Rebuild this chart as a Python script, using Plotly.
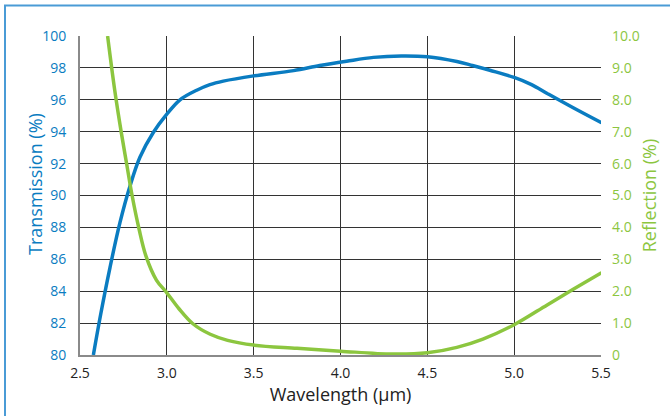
import plotly.graph_objects as go

# Transmission (%) vs wavelength (µm)
t_wl = [2.577, 2.62, 2.673, 2.73, 2.788, 2.845, 2.922, 3.0, 3.076, 3.172, 3.248, 3.325, 3.5,
        3.73, 3.88, 4.035, 4.19, 4.35, 4.5, 4.67, 4.76, 4.86, 5.0, 5.1, 5.19, 5.34, 5.503]
t_val = [80.0, 82.6, 85.5, 88.3, 90.6, 92.4, 93.95, 95.1, 96.0, 96.6, 96.95, 97.17, 97.5,
         97.83, 98.15, 98.42, 98.66, 98.75, 98.70, 98.4, 98.15, 97.85, 97.4, 96.95, 96.4, 95.5, 94.56]

# Reflection (%) vs wavelength (µm)
r_wl = [2.659, 2.70, 2.74, 2.77, 2.80, 2.84, 2.88, 2.94, 3.0, 3.07, 3.15, 3.25, 3.35, 3.5,
        3.75, 4.0, 4.3, 4.5, 4.67, 4.82, 5.0, 5.19, 5.34, 5.503]
r_val = [10.0, 8.3, 6.9, 5.95, 5.0, 3.95, 3.1, 2.35, 1.95, 1.45, 0.98, 0.65, 0.46, 0.31,
         0.21, 0.12, 0.03, 0.07, 0.24, 0.5, 0.95, 1.57, 2.06, 2.58]

x_ticks = [2.5, 3.0, 3.5, 4.0, 4.5, 5.0, 5.5]
x_ticklabels = ["2.5", "3.0", "3.5", "4.0", "4.5", "5.0", "5.5"]
t_ticks = [80, 82, 84, 86, 88, 90, 92, 94, 96, 98, 100]
r_ticks = [0, 1, 2, 3, 4, 5, 6, 7, 8, 9, 10]
r_ticklabels = ["0", "1.0", "2.0", "3.0", "4.0", "5.0", "6.0", "7.0", "8.0", "9.0", "10.0"]

BLUE = "#0a7cc1"
GREEN = "#8cc63f"
FONT = "Open Sans"

fig = go.Figure()
fig.add_trace(go.Scatter(x=t_wl, y=t_val, mode="lines",
                         line=dict(color=BLUE, width=3.5, shape="spline", smoothing=1.0),
                         showlegend=False, cliponaxis=False))
fig.add_trace(go.Scatter(x=r_wl, y=r_val, mode="lines", yaxis="y2",
                         line=dict(color=GREEN, width=3.5, shape="spline", smoothing=1.0),
                         showlegend=False, cliponaxis=False))

fig.update_layout(
    width=670, height=416,
    margin=dict(l=80, r=69, t=36, b=61),
    paper_bgcolor="white", plot_bgcolor="white",
    font=dict(family=FONT),
    xaxis=dict(range=[2.5, 5.5], tickvals=x_ticks, ticktext=x_ticklabels,
               showgrid=True, gridcolor="#333", gridwidth=1,
               showline=True, linecolor="#8a8a8a", linewidth=2,
               ticks="", ticklabelstandoff=4, tickfont=dict(size=14, color="#222"),
               title=dict(text="Wavelength (µm)", font=dict(size=18, color="#222"), standoff=2),
               zeroline=False),
    yaxis=dict(range=[80, 100], tickvals=t_ticks,
               showgrid=True, gridcolor="#333", gridwidth=1,
               showline=True, linecolor="#8a8a8a", linewidth=2,
               ticks="", ticklabelstandoff=9, tickfont=dict(size=14, color=BLUE),
               zeroline=False),
    yaxis2=dict(range=[0, 10], tickvals=r_ticks, ticktext=r_ticklabels, overlaying="y", side="right",
                showgrid=False, showline=False, ticks="", ticklabelstandoff=10,
                tickfont=dict(size=14, color=GREEN),
                title=dict(text="Reflection (%)", font=dict(size=18, color=GREEN), standoff=4),
                zeroline=False),
    annotations=[dict(text="Transmission (%)", xref="paper", yref="paper",
                      x=(35 - 80) / 521, y=(355 - 184) / 319, xanchor="center", yanchor="middle",
                      textangle=-90, showarrow=False, font=dict(size=18, color=BLUE))],
    shapes=[dict(type="rect", xref="paper", yref="paper",
                 x0=(5 - 80) / 521, x1=1.2, y0=-0.3, y1=(355 - 5.5) / 319,
                 line=dict(color="#4a9bd6", width=2), fillcolor="rgba(0,0,0,0)", layer="below")],
)

fig.write_html("out.html")
